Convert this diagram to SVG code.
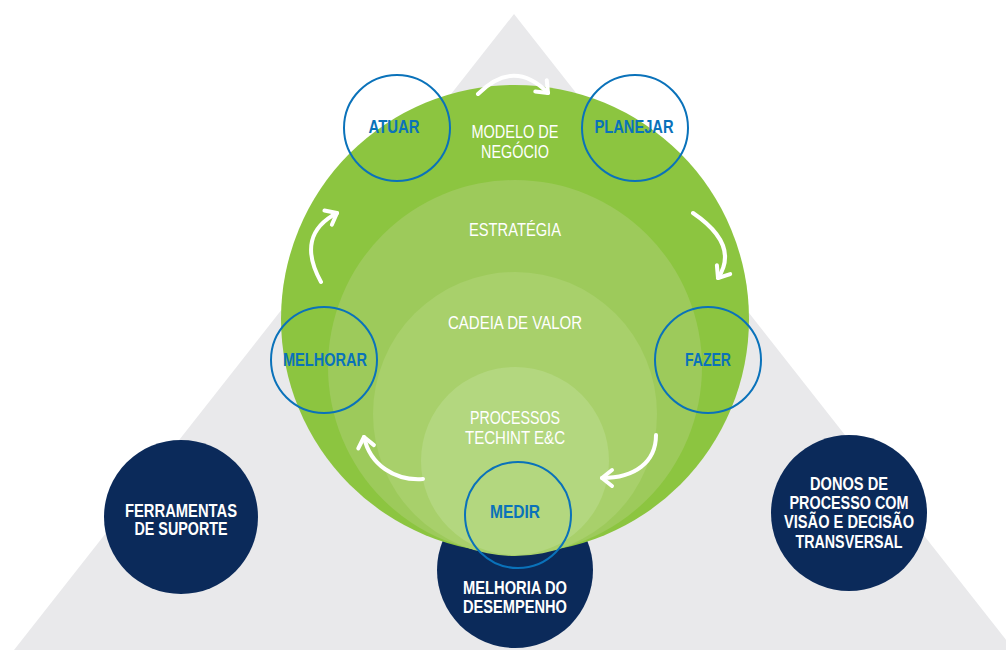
<svg xmlns="http://www.w3.org/2000/svg" width="1006" height="650" viewBox="0 0 1006 650">
<defs>
<style>
.tri{fill:#e9e9eb}
.navy{fill:#0b2a5a}
.ring{fill:none;stroke:#0a72ba;stroke-width:2}
.lbl{font-family:"Liberation Sans",Arial,sans-serif;font-size:18px;font-weight:bold;fill:#0a72ba;text-anchor:middle}
.wt{font-family:"Liberation Sans",Arial,sans-serif;font-size:18px;fill:#ffffff;text-anchor:middle}
.wb{font-family:"Liberation Sans",Arial,sans-serif;font-size:18px;font-weight:bold;fill:#ffffff;text-anchor:middle}
.arr{fill:none;stroke:#ffffff;stroke-width:4;stroke-linecap:round;marker-end:url(#head)}
</style>
<marker id="head" markerUnits="userSpaceOnUse" markerWidth="30" markerHeight="30" viewBox="-15 -15 30 30" refX="0" refY="0" orient="auto" overflow="visible">
<path d="M-10,-8 L0,0 L-10,8" fill="none" stroke="#ffffff" stroke-width="4" stroke-linecap="round" stroke-linejoin="round"/>
</marker>
</defs>
<polygon class="tri" points="514,14 14,650 1014,650"/>
<g id="node-melhoria">
<circle class="navy" cx="515" cy="570" r="78"/>
</g>
<g id="node-ferramentas">
<circle class="navy" cx="181" cy="517" r="77"/>
<text class="wb" x="181" y="517" textLength="112" lengthAdjust="spacingAndGlyphs">FERRAMENTAS</text>
<text class="wb" x="181" y="535" textLength="93" lengthAdjust="spacingAndGlyphs">DE SUPORTE</text>
</g>
<g id="node-donos">
<circle class="navy" cx="849" cy="513" r="78"/>
<text class="wb" x="849" y="490" textLength="78" lengthAdjust="spacingAndGlyphs">DONOS DE</text>
<text class="wb" x="849" y="509" textLength="119" lengthAdjust="spacingAndGlyphs">PROCESSO COM</text>
<text class="wb" x="849" y="528" textLength="130" lengthAdjust="spacingAndGlyphs">VISÃO E DECISÃO</text>
<text class="wb" x="849" y="548" textLength="107" lengthAdjust="spacingAndGlyphs">TRANSVERSAL</text>
</g>
<g id="node-modelo">
<circle cx="515" cy="319" r="234" fill="#8cc540"/>
<text class="wt" x="515" y="138" textLength="87" lengthAdjust="spacingAndGlyphs">MODELO DE</text>
<text class="wt" x="515" y="158" textLength="68" lengthAdjust="spacingAndGlyphs">NEGÓCIO</text>
</g>
<g id="node-estrategia">
<circle cx="515" cy="367" r="187" fill="#9dca5b"/>
<text class="wt" x="515" y="236" textLength="92" lengthAdjust="spacingAndGlyphs">ESTRATÉGIA</text>
</g>
<g id="node-cadeia">
<circle cx="515" cy="414" r="142" fill="#a8d06b"/>
<text class="wt" x="515" y="329" textLength="134" lengthAdjust="spacingAndGlyphs">CADEIA DE VALOR</text>
</g>
<g id="node-processos">
<circle cx="515" cy="461" r="94" fill="#b3d77f"/>
<text class="wt" x="515" y="424" textLength="90" lengthAdjust="spacingAndGlyphs">PROCESSOS</text>
<text class="wt" x="515" y="444" textLength="100" lengthAdjust="spacingAndGlyphs">TECHINT E&amp;C</text>
</g>
<g id="node-melhoria-text">
<text class="wb" x="515" y="594" textLength="104" lengthAdjust="spacingAndGlyphs">MELHORIA DO</text>
<text class="wb" x="515" y="613" textLength="104" lengthAdjust="spacingAndGlyphs">DESEMPENHO</text>
</g>
<g id="node-atuar">
<circle class="ring" cx="397" cy="128" r="53"/>
<text class="lbl" x="394" y="133" textLength="51" lengthAdjust="spacingAndGlyphs">ATUAR</text>
</g>
<g id="node-planejar">
<circle class="ring" cx="635" cy="128" r="53"/>
<text class="lbl" x="634" y="133" textLength="79" lengthAdjust="spacingAndGlyphs">PLANEJAR</text>
</g>
<g id="node-melhorar">
<circle class="ring" cx="324" cy="360" r="53"/>
<text class="lbl" x="325" y="366" textLength="84" lengthAdjust="spacingAndGlyphs">MELHORAR</text>
</g>
<g id="node-fazer">
<circle class="ring" cx="708" cy="360" r="53"/>
<text class="lbl" x="708" y="366" textLength="46" lengthAdjust="spacingAndGlyphs">FAZER</text>
</g>
<g id="node-medir">
<circle class="ring" cx="518" cy="515" r="53"/>
<text class="lbl" x="515" y="518" textLength="50" lengthAdjust="spacingAndGlyphs">MEDIR</text>
</g>
<g id="connectors">
<path class="arr" d="M478,94 Q514,58 548,93"/>
<path class="arr" d="M693,213 Q740,245 718,278"/>
<path class="arr" d="M656,435 C656,462 635,478 602,478"/>
<path class="arr" d="M423,479 C395,481 370,465 364,437"/>
<path class="arr" d="M321,282 Q295,235 337,213"/>
</g>
</svg>
